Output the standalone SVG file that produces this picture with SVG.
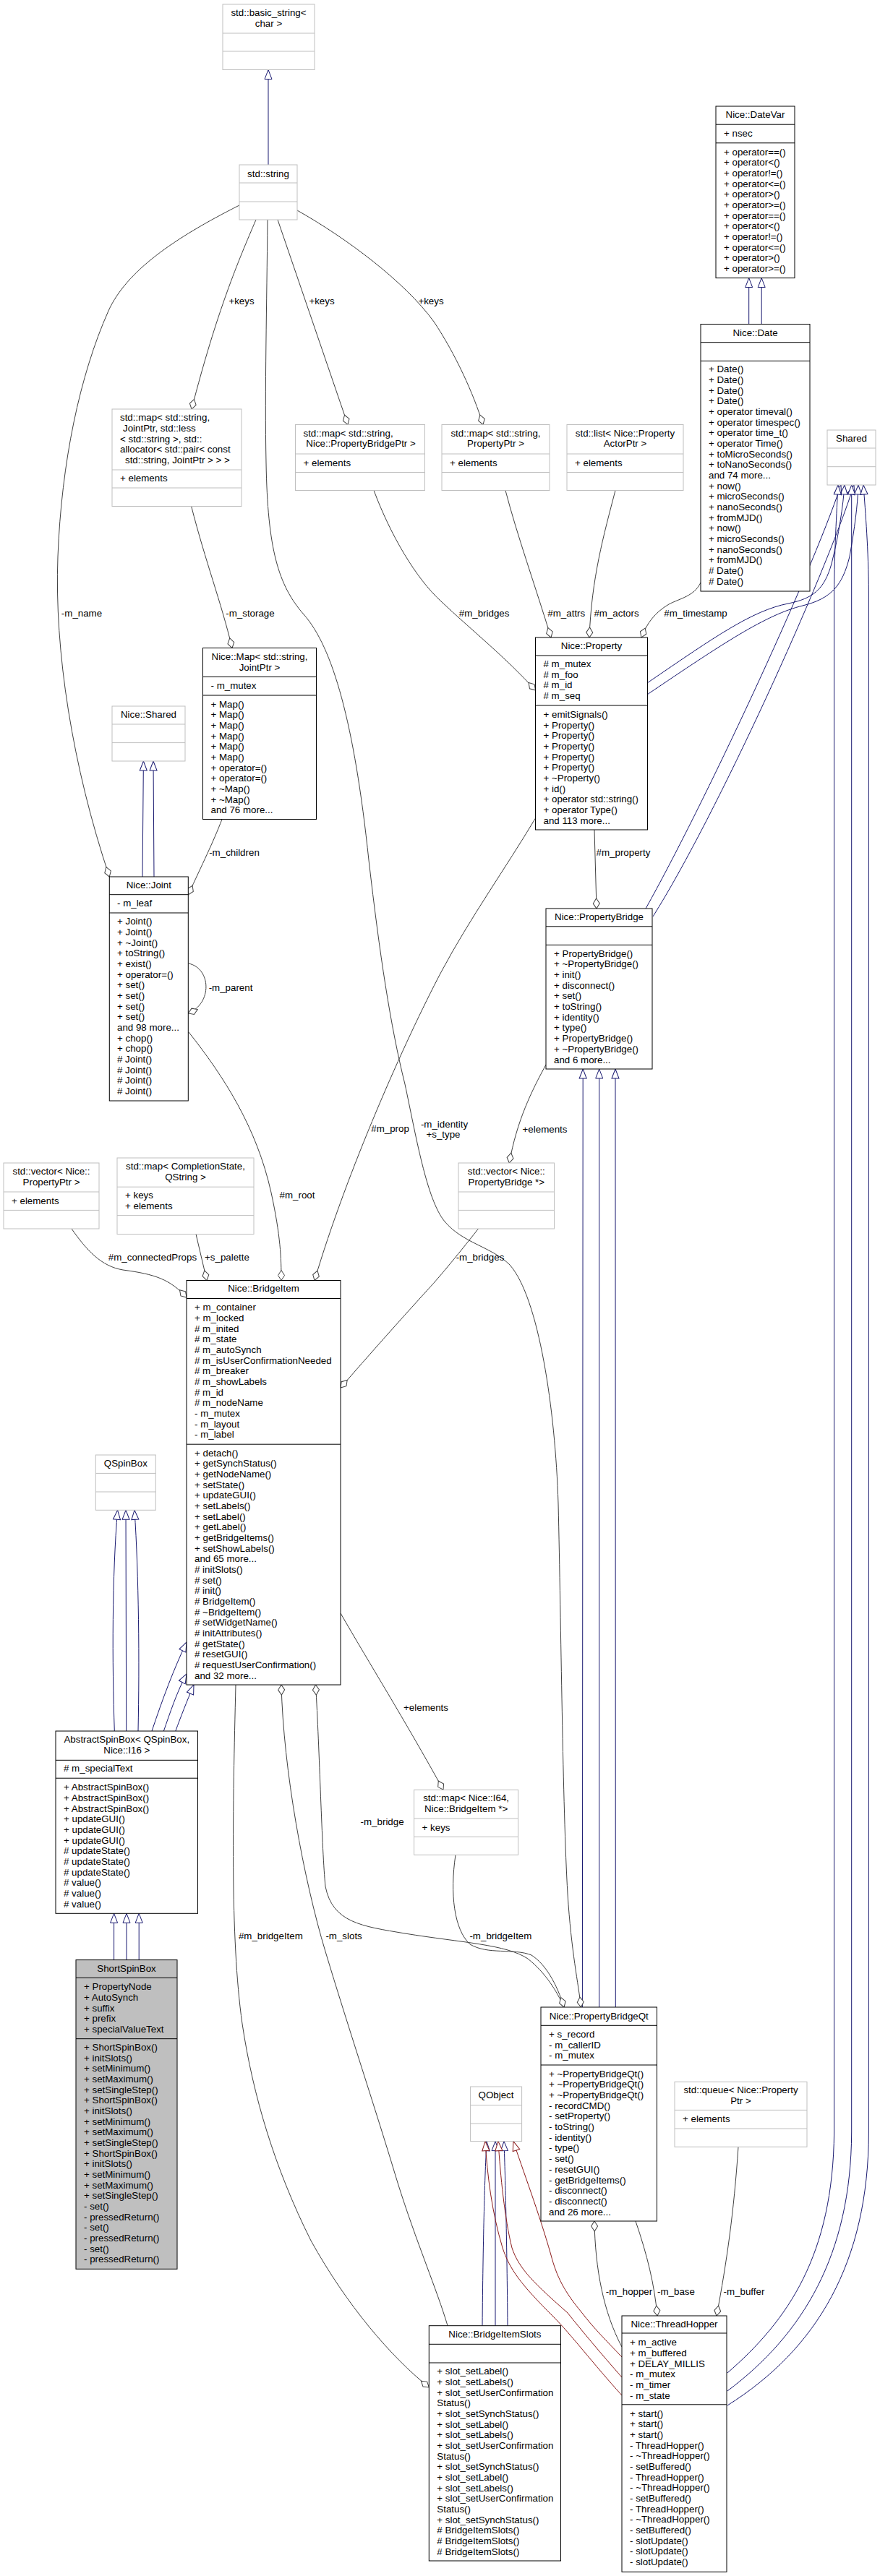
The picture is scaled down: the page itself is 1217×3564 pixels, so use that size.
<svg xmlns="http://www.w3.org/2000/svg" width="1217" height="3564" viewBox="0 0 1217 3564">
<style>
text{font-family:"Liberation Sans",Arial,Helvetica,sans-serif;font-size:13.33px;fill:#000}
.c{text-anchor:middle}
.n{fill:#fff;stroke:#000;stroke-width:1}
.g{fill:#fff;stroke:#bfbfbf;stroke-width:1}
.s{fill:#bfbfbf;stroke:#000;stroke-width:1}
.dn{stroke:#000;stroke-width:1}
.dg{stroke:#bfbfbf;stroke-width:1}
.e{fill:none;stroke:#404040;stroke-width:1}
.b{fill:none;stroke:#191970;stroke-width:1}
.r{fill:none;stroke:#8b1a1a;stroke-width:1}
</style>
<defs>
<marker id="de" markerUnits="userSpaceOnUse" markerWidth="16" markerHeight="12" viewBox="-1 -6 16 12" refX="14" refY="0" orient="auto"><path d="M0,0 L7,-4.5 L14,0 L7,4.5 Z" fill="#fff" stroke="#404040"/></marker>
<marker id="ds" markerUnits="userSpaceOnUse" markerWidth="16" markerHeight="12" viewBox="-1 -6 16 12" refX="0" refY="0" orient="auto"><path d="M0,0 L7,-4.5 L14,0 L7,4.5 Z" fill="#fff" stroke="#404040"/></marker>
<marker id="tb" markerUnits="userSpaceOnUse" markerWidth="15" markerHeight="12" viewBox="-1 -6 15 12" refX="13" refY="0" orient="auto"><path d="M0,-5 L13,0 L0,5 Z" fill="#fff" stroke="#191970"/></marker>
<marker id="tr" markerUnits="userSpaceOnUse" markerWidth="15" markerHeight="12" viewBox="-1 -6 15 12" refX="13" refY="0" orient="auto"><path d="M0,-5 L13,0 L0,5 Z" fill="#fff" stroke="#8b1a1a"/></marker>
</defs>
<rect x="0" y="0" width="1217" height="3564" fill="#fff"/>

<g id="connectors">
<!-- inheritance -->
<path class="b" d="M371,228 L371,96.5" marker-end="url(#tb)"/>
<path class="b" d="M1035.7,448.5 L1035.7,384.6" marker-end="url(#tb)"/>
<path class="b" d="M1053.2,448.5 L1053.2,384.6" marker-end="url(#tb)"/>
<path class="b" d="M197,1213 L198.4,1053" marker-end="url(#tb)"/>
<path class="b" d="M213,1213 L212,1053" marker-end="url(#tb)"/>
<path class="b" d="M895,945 C990,880 1040,845 1090,835 C1125,828 1140,815 1150,780 C1160,740 1166,700 1168,671" marker-end="url(#tb)"/>
<path class="b" d="M895,961 C1000,890 1060,850 1110,838 C1150,828 1165,810 1175,770 C1182,730 1186,700 1187,671" marker-end="url(#tb)"/>
<path class="b" d="M893,1257 C970,1120 1120,800 1163,671" marker-end="url(#tb)"/>
<path class="b" d="M903,1268 C990,1130 1140,800 1181,671" marker-end="url(#tb)"/>
<path class="b" d="M1006,3283 C1090,3210 1152,3120 1153.6,2950 L1153.6,820 C1154,760 1157,710 1159,671" marker-end="url(#tb)"/>
<path class="b" d="M1006,3308 C1110,3230 1177,3120 1177.7,2950 L1177.7,671" marker-end="url(#tb)"/>
<path class="b" d="M1006,3328 C1130,3250 1201,3130 1201.4,2950 L1201.4,820 C1201,760 1197,710 1194,671" marker-end="url(#tb)"/>
<path class="b" d="M805.4,2777 L806.2,1479" marker-end="url(#tb)"/>
<path class="b" d="M828.7,2777 L828.7,1479" marker-end="url(#tb)"/>
<path class="b" d="M851.3,2777 L851,1479" marker-end="url(#tb)"/>
<path class="b" d="M158.3,2395 C155,2300 155,2180 162.6,2089.3" marker-end="url(#tb)"/>
<path class="b" d="M174.7,2395 L174,2089.3" marker-end="url(#tb)"/>
<path class="b" d="M191,2395 C193,2300 192,2180 186,2089.3" marker-end="url(#tb)"/>
<path class="b" d="M210,2395 C225,2350 240,2310 258,2272" marker-end="url(#tb)"/>
<path class="b" d="M226.4,2395 C235,2370 245,2340 258,2316" marker-end="url(#tb)"/>
<path class="b" d="M242.8,2395 C250,2375 258,2355 268,2331" marker-end="url(#tb)"/>
<path class="b" d="M157.6,2711.6 L157.6,2647.3" marker-end="url(#tb)"/>
<path class="b" d="M175,2711.6 L175,2647.3" marker-end="url(#tb)"/>
<path class="b" d="M192.2,2711.6 L192.2,2647.3" marker-end="url(#tb)"/>
<path class="b" d="M667,3217.7 C668,3100 670,3020 673,2962.6" marker-end="url(#tb)"/>
<path class="b" d="M685,3217.7 L685,2962.6" marker-end="url(#tb)"/>
<path class="b" d="M702,3217.7 C701,3100 699,3020 697,2962.6" marker-end="url(#tb)"/>
<path class="r" d="M860,3314 C820,3270 790,3230 765,3205 C720,3160 705,3140 695,3110 C680,3060 674,3010 671,2962.6" marker-end="url(#tr)"/>
<path class="r" d="M860,3289 C830,3255 805,3225 785,3200 C740,3160 718,3140 708,3110 C698,3070 692,3010 689,2962.6" marker-end="url(#tr)"/>
<path class="r" d="M860,3261 C840,3240 820,3220 805,3200 C780,3170 770,3150 762,3120 C745,3060 722,3000 710,2962.6" marker-end="url(#tr)"/>
<!-- usage -->
<path class="e" d="M331,284 C240,330 175,375 150,430 C110,520 85,640 80,770 C75,900 100,1060 151.3,1213" marker-end="url(#de)"/>
<path class="e" d="M354,304 C330,360 300,430 265,566" marker-end="url(#de)"/>
<path class="e" d="M384,304 L481,587.5" marker-end="url(#de)"/>
<path class="e" d="M411,291 C480,330 560,390 600,445 C630,490 655,545 668,587.5" marker-end="url(#de)"/>
<path class="e" d="M370,304 C369,420 366,540 368,640 C370,760 385,810 420,850 C460,895 490,1000 510,1190 C525,1320 540,1420 560,1500 C575,1570 590,1660 615,1690 C640,1720 680,1725 705,1750 C745,1795 768,1950 772,2080 C776,2250 778,2500 785,2620 C790,2700 800,2745 803.5,2777" marker-end="url(#de)"/>
<path class="e" d="M264.5,700 C285,780 305,830 321,896.5" marker-end="url(#de)"/>
<path class="e" d="M699,678.5 C715,740 740,810 762,882" marker-end="url(#de)"/>
<path class="e" d="M851,678.5 C835,740 818,800 815,882" marker-end="url(#de)"/>
<path class="e" d="M969,806 C960,825 940,828 925,836 C905,848 895,862 887,882" marker-end="url(#de)"/>
<path class="e" d="M517,678.5 C540,740 575,800 610,832 C650,870 700,910 740.5,955" marker-end="url(#de)"/>
<path class="e" d="M307,1133.5 C295,1165 280,1195 260.3,1238" marker-end="url(#de)"/>
<path class="e" d="M261,1333 C292,1340 294,1388 260.3,1402" marker-end="url(#de)"/>
<path class="e" d="M261,1428 C310,1490 355,1560 375,1650 C388,1710 389,1740 389,1771.5" marker-end="url(#de)"/>
<path class="e" d="M740.5,1132 C700,1200 650,1270 610,1345 C560,1440 480,1620 435,1771.5" marker-end="url(#de)"/>
<path class="e" d="M822,1148 L825,1257" marker-end="url(#de)"/>
<path class="e" d="M755,1473 C735,1510 715,1550 704.3,1609" marker-end="url(#de)"/>
<path class="e" d="M661.5,1700 C630,1740 605,1770 590,1786 C550,1830 510,1875 471,1920" marker-end="url(#de)"/>
<path class="e" d="M99,1700 C120,1730 140,1752 170,1757 C215,1763 235,1770 258,1795" marker-end="url(#de)"/>
<path class="e" d="M271,1707.5 L286,1771.5" marker-end="url(#de)"/>
<path class="e" d="M471,2232 C510,2300 560,2380 613,2476.3" marker-end="url(#de)"/>
<path class="e" d="M326,2331 C322,2500 318,2680 335,2800 C350,2900 380,3000 430,3100 C480,3190 540,3260 593.3,3303" marker-end="url(#de)"/>
<path class="e" d="M389,2331 C392,2450 420,2600 450,2700 C480,2800 520,2920 550,3020 C575,3100 605,3170 619,3217.7" marker-start="url(#ds)"/>
<path class="e" d="M436.5,2331 C442,2420 445,2560 450,2610 C460,2660 500,2665 560,2675 C640,2688 700,2690 730,2710 C755,2730 770,2755 780,2777" marker-start="url(#ds)"/>
<path class="e" d="M630,2566.3 C622,2620 628,2670 650,2690 C675,2705 710,2695 735,2705 C755,2718 770,2745 780,2777" marker-end="url(#de)"/>
<path class="e" d="M822,3073 C823,3140 835,3200 860,3247" marker-start="url(#ds)"/>
<path class="e" d="M879,3073 C895,3120 905,3160 909,3204" marker-end="url(#de)"/>
<path class="e" d="M1021,2970.3 C1015,3060 1005,3130 991,3204" marker-end="url(#de)"/>
<!-- labels -->
<text class="c" x="334" y="420.5">+keys</text>
<text class="c" x="445" y="420.5">+keys</text>
<text class="c" x="596" y="420.5">+keys</text>
<text class="c" x="113" y="853">-m_name</text>
<text class="c" x="346" y="853">-m_storage</text>
<text class="c" x="669.6" y="853">#m_bridges</text>
<text class="c" x="783.3" y="853">#m_attrs</text>
<text class="c" x="852.5" y="853">#m_actors</text>
<text class="c" x="962" y="853">#m_timestamp</text>
<text class="c" x="324" y="1184">-m_children</text>
<text class="c" x="862" y="1184">#m_property</text>
<text class="c" x="319" y="1371">-m_parent</text>
<text class="c" x="539.6" y="1566.4">#m_prop</text>
<text class="c" x="614.5" y="1559.5">-m_identity</text>
<text class="c" x="613" y="1574">+s_type</text>
<text class="c" x="753.5" y="1566.5">+elements</text>
<text class="c" x="411" y="1658.2">#m_root</text>
<text class="c" x="211" y="1743.5">#m_connectedProps</text>
<text class="c" x="314" y="1743.5">+s_palette</text>
<text class="c" x="664" y="1743.5">-m_bridges</text>
<text class="c" x="589" y="2367.4">+elements</text>
<text class="c" x="528.6" y="2525.1">-m_bridge</text>
<text class="c" x="374.4" y="2682.8">#m_bridgeItem</text>
<text class="c" x="475.6" y="2682.8">-m_slots</text>
<text class="c" x="692.4" y="2682.8">-m_bridgeItem</text>
<text class="c" x="870" y="3175.1">-m_hopper</text>
<text class="c" x="935" y="3175.1">-m_base</text>
<text class="c" x="1029" y="3175.1">-m_buffer</text>
</g>

<g id="basic_string">
<rect class="g" x="308" y="6" width="127" height="90.5"/>
<line class="dg" x1="308" y1="46" x2="435" y2="46"/><line class="dg" x1="308" y1="71" x2="435" y2="71"/>
<text class="c" x="371.5" y="22">std::basic_string&lt;</text>
<text class="c" x="371.5" y="37">char &gt;</text>
</g>

<g id="std_string">
<rect class="g" x="331" y="228" width="80" height="76"/>
<line class="dg" x1="331" y1="253" x2="411" y2="253"/><line class="dg" x1="331" y1="279" x2="411" y2="279"/>
<text class="c" x="371" y="244.5">std::string</text>
</g>

<g id="map_joint">
<rect class="g" x="155" y="566" width="179" height="134.5"/>
<line class="dg" x1="155" y1="650" x2="334" y2="650"/><line class="dg" x1="155" y1="675" x2="334" y2="675"/>
<text x="166" y="582.3">std::map&lt; std::string,</text>
<text x="170" y="597">JointPtr, std::less</text>
<text x="166" y="611.6">&lt; std::string &gt;, std::</text>
<text x="166" y="626.3">allocator&lt; std::pair&lt; const</text>
<text x="173" y="641">std::string, JointPtr &gt; &gt; &gt;</text>
<text x="166" y="666.2">+ elements</text>
</g>

<g id="map_pbptr">
<rect class="g" x="408.5" y="587.5" width="179" height="91"/>
<line class="dg" x1="408.5" y1="628" x2="587.5" y2="628"/><line class="dg" x1="408.5" y1="653.5" x2="587.5" y2="653.5"/>
<text x="419.5" y="603.5">std::map&lt; std::string,</text>
<text x="423.3" y="618.2">Nice::PropertyBridgePtr &gt;</text>
<text x="419.5" y="644.5">+ elements</text>
</g>

<g id="map_pptr">
<rect class="g" x="611" y="587.5" width="149" height="91"/>
<line class="dg" x1="611" y1="628" x2="760" y2="628"/><line class="dg" x1="611" y1="653.5" x2="760" y2="653.5"/>
<text class="c" x="685.5" y="603.5">std::map&lt; std::string,</text>
<text class="c" x="685.5" y="618.2">PropertyPtr &gt;</text>
<text x="622" y="644.5">+ elements</text>
</g>

<g id="list_actor">
<rect class="g" x="784" y="587.5" width="161" height="91"/>
<line class="dg" x1="784" y1="628" x2="945" y2="628"/><line class="dg" x1="784" y1="653.5" x2="945" y2="653.5"/>
<text class="c" x="864.5" y="603.5">std::list&lt; Nice::Property</text>
<text class="c" x="864.5" y="618.2">ActorPtr &gt;</text>
<text x="795" y="644.5">+ elements</text>
</g>

<g id="datevar">
<rect class="n" x="990" y="147" width="109" height="237.6"/>
<line class="dn" x1="990" y1="172.2" x2="1099" y2="172.2"/><line class="dn" x1="990" y1="197.8" x2="1099" y2="197.8"/>
<text class="c" x="1044.5" y="163.3">Nice::DateVar</text>
<text x="1001" y="189.3">+ nsec</text>
<text x="1001" y="214.5"><tspan x="1001">+ operator==()</tspan><tspan x="1001" dy="14.67">+ operator&lt;()</tspan><tspan x="1001" dy="14.67">+ operator!=()</tspan><tspan x="1001" dy="14.67">+ operator&lt;=()</tspan><tspan x="1001" dy="14.67">+ operator&gt;()</tspan><tspan x="1001" dy="14.67">+ operator&gt;=()</tspan><tspan x="1001" dy="14.67">+ operator==()</tspan><tspan x="1001" dy="14.67">+ operator&lt;()</tspan><tspan x="1001" dy="14.67">+ operator!=()</tspan><tspan x="1001" dy="14.67">+ operator&lt;=()</tspan><tspan x="1001" dy="14.67">+ operator&gt;()</tspan><tspan x="1001" dy="14.67">+ operator&gt;=()</tspan></text>
</g>

<g id="date">
<rect class="n" x="969" y="448.5" width="151" height="369.5"/>
<line class="dn" x1="969" y1="473.7" x2="1120" y2="473.7"/><line class="dn" x1="969" y1="499.4" x2="1120" y2="499.4"/>
<text class="c" x="1044.5" y="464.8">Nice::Date</text>
<text x="980" y="515.3"><tspan x="980">+ Date()</tspan><tspan x="980" dy="14.67">+ Date()</tspan><tspan x="980" dy="14.67">+ Date()</tspan><tspan x="980" dy="14.67">+ Date()</tspan><tspan x="980" dy="14.67">+ operator timeval()</tspan><tspan x="980" dy="14.67">+ operator timespec()</tspan><tspan x="980" dy="14.67">+ operator time_t()</tspan><tspan x="980" dy="14.67">+ operator Time()</tspan><tspan x="980" dy="14.67">+ toMicroSeconds()</tspan><tspan x="980" dy="14.67">+ toNanoSeconds()</tspan><tspan x="980" dy="14.67">and 74 more...</tspan><tspan x="980" dy="14.67">+ now()</tspan><tspan x="980" dy="14.67">+ microSeconds()</tspan><tspan x="980" dy="14.67">+ nanoSeconds()</tspan><tspan x="980" dy="14.67">+ fromMJD()</tspan><tspan x="980" dy="14.67">+ now()</tspan><tspan x="980" dy="14.67">+ microSeconds()</tspan><tspan x="980" dy="14.67">+ nanoSeconds()</tspan><tspan x="980" dy="14.67">+ fromMJD()</tspan><tspan x="980" dy="14.67"># Date()</tspan><tspan x="980" dy="14.67"># Date()</tspan></text>
</g>

<g id="shared">
<rect class="g" x="1144" y="595" width="67" height="76"/>
<line class="dg" x1="1144" y1="620" x2="1211" y2="620"/><line class="dg" x1="1144" y1="645.7" x2="1211" y2="645.7"/>
<text class="c" x="1177.5" y="611">Shared</text>
</g>

<g id="property">
<rect class="n" x="740.5" y="882" width="155" height="266"/>
<line class="dn" x1="740.5" y1="907" x2="895.5" y2="907"/><line class="dn" x1="740.5" y1="976" x2="895.5" y2="976"/>
<text class="c" x="818" y="898">Nice::Property</text>
<text x="751.5" y="923"><tspan x="751.5"># m_mutex</tspan><tspan x="751.5" dy="14.67"># m_foo</tspan><tspan x="751.5" dy="14.67"># m_id</tspan><tspan x="751.5" dy="14.67"># m_seq</tspan></text>
<text x="751.5" y="993"><tspan x="751.5">+ emitSignals()</tspan><tspan x="751.5" dy="14.67">+ Property()</tspan><tspan x="751.5" dy="14.67">+ Property()</tspan><tspan x="751.5" dy="14.67">+ Property()</tspan><tspan x="751.5" dy="14.67">+ Property()</tspan><tspan x="751.5" dy="14.67">+ Property()</tspan><tspan x="751.5" dy="14.67">+ ~Property()</tspan><tspan x="751.5" dy="14.67">+ id()</tspan><tspan x="751.5" dy="14.67">+ operator std::string()</tspan><tspan x="751.5" dy="14.67">+ operator Type()</tspan><tspan x="751.5" dy="14.67">and 113 more...</tspan></text>
</g>

<g id="nice_map">
<rect class="n" x="280.5" y="896.5" width="157" height="237"/>
<line class="dn" x1="280.5" y1="936.5" x2="437.5" y2="936.5"/><line class="dn" x1="280.5" y1="962" x2="437.5" y2="962"/>
<text class="c" x="359" y="913">Nice::Map&lt; std::string,</text>
<text class="c" x="359" y="927.7">JointPtr &gt;</text>
<text x="291.5" y="953.2">- m_mutex</text>
<text x="291.5" y="978.5"><tspan x="291.5">+ Map()</tspan><tspan x="291.5" dy="14.67">+ Map()</tspan><tspan x="291.5" dy="14.67">+ Map()</tspan><tspan x="291.5" dy="14.67">+ Map()</tspan><tspan x="291.5" dy="14.67">+ Map()</tspan><tspan x="291.5" dy="14.67">+ Map()</tspan><tspan x="291.5" dy="14.67">+ operator=()</tspan><tspan x="291.5" dy="14.67">+ operator=()</tspan><tspan x="291.5" dy="14.67">+ ~Map()</tspan><tspan x="291.5" dy="14.67">+ ~Map()</tspan><tspan x="291.5" dy="14.67">and 76 more...</tspan></text>
</g>

<g id="nice_shared">
<rect class="g" x="155" y="977" width="101" height="76"/>
<line class="dg" x1="155" y1="1002" x2="256" y2="1002"/><line class="dg" x1="155" y1="1027.6" x2="256" y2="1027.6"/>
<text class="c" x="205.5" y="993">Nice::Shared</text>
</g>

<g id="joint">
<rect class="n" x="151.3" y="1213" width="109" height="310"/>
<line class="dn" x1="151.3" y1="1237.7" x2="260.3" y2="1237.7"/><line class="dn" x1="151.3" y1="1263" x2="260.3" y2="1263"/>
<text class="c" x="205.8" y="1229.2">Nice::Joint</text>
<text x="162" y="1254">- m_leaf</text>
<text x="162" y="1279.4"><tspan x="162">+ Joint()</tspan><tspan x="162" dy="14.67">+ Joint()</tspan><tspan x="162" dy="14.67">+ ~Joint()</tspan><tspan x="162" dy="14.67">+ toString()</tspan><tspan x="162" dy="14.67">+ exist()</tspan><tspan x="162" dy="14.67">+ operator=()</tspan><tspan x="162" dy="14.67">+ set()</tspan><tspan x="162" dy="14.67">+ set()</tspan><tspan x="162" dy="14.67">+ set()</tspan><tspan x="162" dy="14.67">+ set()</tspan><tspan x="162" dy="14.67">and 98 more...</tspan><tspan x="162" dy="14.67">+ chop()</tspan><tspan x="162" dy="14.67">+ chop()</tspan><tspan x="162" dy="14.67"># Joint()</tspan><tspan x="162" dy="14.67"># Joint()</tspan><tspan x="162" dy="14.67"># Joint()</tspan><tspan x="162" dy="14.67"># Joint()</tspan></text>
</g>

<g id="property_bridge">
<rect class="n" x="755" y="1257" width="147" height="222"/>
<line class="dn" x1="755" y1="1281.8" x2="902" y2="1281.8"/><line class="dn" x1="755" y1="1307.4" x2="902" y2="1307.4"/>
<text class="c" x="828.5" y="1273.2">Nice::PropertyBridge</text>
<text x="766" y="1323.8"><tspan x="766">+ PropertyBridge()</tspan><tspan x="766" dy="14.67">+ ~PropertyBridge()</tspan><tspan x="766" dy="14.67">+ init()</tspan><tspan x="766" dy="14.67">+ disconnect()</tspan><tspan x="766" dy="14.67">+ set()</tspan><tspan x="766" dy="14.67">+ toString()</tspan><tspan x="766" dy="14.67">+ identity()</tspan><tspan x="766" dy="14.67">+ type()</tspan><tspan x="766" dy="14.67">+ PropertyBridge()</tspan><tspan x="766" dy="14.67">+ ~PropertyBridge()</tspan><tspan x="766" dy="14.67">and 6 more...</tspan></text>
</g>

<g id="vector_pptr">
<rect class="g" x="5" y="1609" width="132" height="91"/>
<line class="dg" x1="5" y1="1649" x2="137" y2="1649"/><line class="dg" x1="5" y1="1674.4" x2="137" y2="1674.4"/>
<text class="c" x="71" y="1625.3">std::vector&lt; Nice::</text>
<text class="c" x="71" y="1640">PropertyPtr &gt;</text>
<text x="16" y="1665.5">+ elements</text>
</g>

<g id="map_completion">
<rect class="g" x="162" y="1602" width="189" height="105.5"/>
<line class="dg" x1="162" y1="1642.2" x2="351" y2="1642.2"/><line class="dg" x1="162" y1="1681.6" x2="351" y2="1681.6"/>
<text class="c" x="256.5" y="1618">std::map&lt; CompletionState,</text>
<text class="c" x="256.5" y="1632.7">QString &gt;</text>
<text x="173" y="1658.2"><tspan x="173">+ keys</tspan><tspan x="173" dy="14.67">+ elements</tspan></text>
</g>

<g id="vector_pb">
<rect class="g" x="634" y="1609" width="132.5" height="91"/>
<line class="dg" x1="634" y1="1649" x2="766.5" y2="1649"/><line class="dg" x1="634" y1="1674.4" x2="766.5" y2="1674.4"/>
<text class="c" x="700.3" y="1625.3">std::vector&lt; Nice::</text>
<text class="c" x="700.3" y="1640">PropertyBridge *&gt;</text>
</g>

<g id="bridge_item">
<rect class="n" x="258" y="1771.5" width="213" height="559.5"/>
<line class="dn" x1="258" y1="1796.5" x2="471" y2="1796.5"/><line class="dn" x1="258" y1="1998.2" x2="471" y2="1998.2"/>
<text class="c" x="364.5" y="1787">Nice::BridgeItem</text>
<text x="269" y="1813.3"><tspan x="269">+ m_container</tspan><tspan x="269" dy="14.67">+ m_locked</tspan><tspan x="269" dy="14.67"># m_inited</tspan><tspan x="269" dy="14.67"># m_state</tspan><tspan x="269" dy="14.67"># m_autoSynch</tspan><tspan x="269" dy="14.67"># m_isUserConfirmationNeeded</tspan><tspan x="269" dy="14.67"># m_breaker</tspan><tspan x="269" dy="14.67"># m_showLabels</tspan><tspan x="269" dy="14.67"># m_id</tspan><tspan x="269" dy="14.67"># m_nodeName</tspan><tspan x="269" dy="14.67">- m_mutex</tspan><tspan x="269" dy="14.67">- m_layout</tspan><tspan x="269" dy="14.67">- m_label</tspan></text>
<text x="269" y="2014.5"><tspan x="269">+ detach()</tspan><tspan x="269" dy="14.67">+ getSynchStatus()</tspan><tspan x="269" dy="14.67">+ getNodeName()</tspan><tspan x="269" dy="14.67">+ setState()</tspan><tspan x="269" dy="14.67">+ updateGUI()</tspan><tspan x="269" dy="14.67">+ setLabels()</tspan><tspan x="269" dy="14.67">+ setLabel()</tspan><tspan x="269" dy="14.67">+ getLabel()</tspan><tspan x="269" dy="14.67">+ getBridgeItems()</tspan><tspan x="269" dy="14.67">+ setShowLabels()</tspan><tspan x="269" dy="14.67">and 65 more...</tspan><tspan x="269" dy="14.67"># initSlots()</tspan><tspan x="269" dy="14.67"># set()</tspan><tspan x="269" dy="14.67"># init()</tspan><tspan x="269" dy="14.67"># BridgeItem()</tspan><tspan x="269" dy="14.67"># ~BridgeItem()</tspan><tspan x="269" dy="14.67"># setWidgetName()</tspan><tspan x="269" dy="14.67"># initAttributes()</tspan><tspan x="269" dy="14.67"># getState()</tspan><tspan x="269" dy="14.67"># resetGUI()</tspan><tspan x="269" dy="14.67"># requestUserConfirmation()</tspan><tspan x="269" dy="14.67">and 32 more...</tspan></text>
</g>

<g id="qspinbox">
<rect class="g" x="132.3" y="2013" width="83" height="76.3"/>
<line class="dg" x1="132.3" y1="2038.4" x2="215.3" y2="2038.4"/><line class="dg" x1="132.3" y1="2064" x2="215.3" y2="2064"/>
<text class="c" x="173.8" y="2029">QSpinBox</text>
</g>

<g id="abstract_spinbox">
<rect class="n" x="77" y="2395" width="196.5" height="252.3"/>
<line class="dn" x1="77" y1="2435.3" x2="273.5" y2="2435.3"/><line class="dn" x1="77" y1="2460.2" x2="273.5" y2="2460.2"/>
<text class="c" x="175.3" y="2411">AbstractSpinBox&lt; QSpinBox,</text>
<text class="c" x="175.3" y="2425.8">Nice::I16 &gt;</text>
<text x="88" y="2451.3"># m_specialText</text>
<text x="88" y="2477.3"><tspan x="88">+ AbstractSpinBox()</tspan><tspan x="88" dy="14.67">+ AbstractSpinBox()</tspan><tspan x="88" dy="14.67">+ AbstractSpinBox()</tspan><tspan x="88" dy="14.67">+ updateGUI()</tspan><tspan x="88" dy="14.67">+ updateGUI()</tspan><tspan x="88" dy="14.67">+ updateGUI()</tspan><tspan x="88" dy="14.67"># updateState()</tspan><tspan x="88" dy="14.67"># updateState()</tspan><tspan x="88" dy="14.67"># updateState()</tspan><tspan x="88" dy="14.67"># value()</tspan><tspan x="88" dy="14.67"># value()</tspan><tspan x="88" dy="14.67"># value()</tspan></text>
</g>

<g id="map_i64">
<rect class="g" x="572.6" y="2476.3" width="144" height="90"/>
<line class="dg" x1="572.6" y1="2516" x2="716.6" y2="2516"/><line class="dg" x1="572.6" y1="2541.3" x2="716.6" y2="2541.3"/>
<text class="c" x="644.6" y="2492.2">std::map&lt; Nice::I64,</text>
<text class="c" x="644.6" y="2506.8">Nice::BridgeItem *&gt;</text>
<text x="583.6" y="2532.5">+ keys</text>
</g>

<g id="short_spinbox">
<rect class="s" x="105" y="2711.6" width="140" height="427.7"/>
<line class="dn" x1="105" y1="2736.5" x2="245" y2="2736.5"/><line class="dn" x1="105" y1="2820.7" x2="245" y2="2820.7"/>
<text class="c" x="175" y="2727.5">ShortSpinBox</text>
<text x="116" y="2753.2"><tspan x="116">+ PropertyNode</tspan><tspan x="116" dy="14.67">+ AutoSynch</tspan><tspan x="116" dy="14.67">+ suffix</tspan><tspan x="116" dy="14.67">+ prefix</tspan><tspan x="116" dy="14.67">+ specialValueText</tspan></text>
<text x="116" y="2837"><tspan x="116">+ ShortSpinBox()</tspan><tspan x="116" dy="14.67">+ initSlots()</tspan><tspan x="116" dy="14.67">+ setMinimum()</tspan><tspan x="116" dy="14.67">+ setMaximum()</tspan><tspan x="116" dy="14.67">+ setSingleStep()</tspan><tspan x="116" dy="14.67">+ ShortSpinBox()</tspan><tspan x="116" dy="14.67">+ initSlots()</tspan><tspan x="116" dy="14.67">+ setMinimum()</tspan><tspan x="116" dy="14.67">+ setMaximum()</tspan><tspan x="116" dy="14.67">+ setSingleStep()</tspan><tspan x="116" dy="14.67">+ ShortSpinBox()</tspan><tspan x="116" dy="14.67">+ initSlots()</tspan><tspan x="116" dy="14.67">+ setMinimum()</tspan><tspan x="116" dy="14.67">+ setMaximum()</tspan><tspan x="116" dy="14.67">+ setSingleStep()</tspan><tspan x="116" dy="14.67">- set()</tspan><tspan x="116" dy="14.67">- pressedReturn()</tspan><tspan x="116" dy="14.67">- set()</tspan><tspan x="116" dy="14.67">- pressedReturn()</tspan><tspan x="116" dy="14.67">- set()</tspan><tspan x="116" dy="14.67">- pressedReturn()</tspan></text>
</g>

<g id="property_bridge_qt">
<rect class="n" x="748" y="2777" width="160.5" height="296"/>
<line class="dn" x1="748" y1="2802.3" x2="908.5" y2="2802.3"/><line class="dn" x1="748" y1="2857" x2="908.5" y2="2857"/>
<text class="c" x="828.3" y="2793.8">Nice::PropertyBridgeQt</text>
<text x="759" y="2819"><tspan x="759">+ s_record</tspan><tspan x="759" dy="14.67">- m_callerID</tspan><tspan x="759" dy="14.67">- m_mutex</tspan></text>
<text x="759" y="2873.8"><tspan x="759">+ ~PropertyBridgeQt()</tspan><tspan x="759" dy="14.67">+ ~PropertyBridgeQt()</tspan><tspan x="759" dy="14.67">+ ~PropertyBridgeQt()</tspan><tspan x="759" dy="14.67">- recordCMD()</tspan><tspan x="759" dy="14.67">- setProperty()</tspan><tspan x="759" dy="14.67">- toString()</tspan><tspan x="759" dy="14.67">- identity()</tspan><tspan x="759" dy="14.67">- type()</tspan><tspan x="759" dy="14.67">- set()</tspan><tspan x="759" dy="14.67">- resetGUI()</tspan><tspan x="759" dy="14.67">- getBridgeItems()</tspan><tspan x="759" dy="14.67">- disconnect()</tspan><tspan x="759" dy="14.67">- disconnect()</tspan><tspan x="759" dy="14.67">and 26 more...</tspan></text>
</g>

<g id="qobject">
<rect class="g" x="650.6" y="2887" width="71" height="75.6"/>
<line class="dg" x1="650.6" y1="2912.5" x2="721.6" y2="2912.5"/><line class="dg" x1="650.6" y1="2938" x2="721.6" y2="2938"/>
<text class="c" x="686" y="2903.2">QObject</text>
</g>

<g id="queue">
<rect class="g" x="933" y="2880.3" width="183" height="90"/>
<line class="dg" x1="933" y1="2919.4" x2="1116" y2="2919.4"/><line class="dg" x1="933" y1="2945" x2="1116" y2="2945"/>
<text class="c" x="1024.5" y="2896.3">std::queue&lt; Nice::Property</text>
<text class="c" x="1024.5" y="2911">Ptr &gt;</text>
<text x="944" y="2936.1">+ elements</text>
</g>

<g id="bridge_item_slots">
<rect class="n" x="593.3" y="3217.7" width="182.2" height="325.3"/>
<line class="dn" x1="593.3" y1="3243.3" x2="775.5" y2="3243.3"/><line class="dn" x1="593.3" y1="3269" x2="775.5" y2="3269"/>
<text class="c" x="684.4" y="3233.7">Nice::BridgeItemSlots</text>
<text x="604.3" y="3285.3"><tspan x="604.3">+ slot_setLabel()</tspan><tspan x="604.3" dy="14.67">+ slot_setLabels()</tspan><tspan x="604.3" dy="14.67">+ slot_setUserConfirmation</tspan><tspan x="604.3" dy="14.67">Status()</tspan><tspan x="604.3" dy="14.67">+ slot_setSynchStatus()</tspan><tspan x="604.3" dy="14.67">+ slot_setLabel()</tspan><tspan x="604.3" dy="14.67">+ slot_setLabels()</tspan><tspan x="604.3" dy="14.67">+ slot_setUserConfirmation</tspan><tspan x="604.3" dy="14.67">Status()</tspan><tspan x="604.3" dy="14.67">+ slot_setSynchStatus()</tspan><tspan x="604.3" dy="14.67">+ slot_setLabel()</tspan><tspan x="604.3" dy="14.67">+ slot_setLabels()</tspan><tspan x="604.3" dy="14.67">+ slot_setUserConfirmation</tspan><tspan x="604.3" dy="14.67">Status()</tspan><tspan x="604.3" dy="14.67">+ slot_setSynchStatus()</tspan><tspan x="604.3" dy="14.67"># BridgeItemSlots()</tspan><tspan x="604.3" dy="14.67"># BridgeItemSlots()</tspan><tspan x="604.3" dy="14.67"># BridgeItemSlots()</tspan></text>
</g>

<g id="thread_hopper">
<rect class="n" x="860" y="3204" width="145" height="354.3"/>
<line class="dn" x1="860" y1="3228" x2="1005" y2="3228"/><line class="dn" x1="860" y1="3326.8" x2="1005" y2="3326.8"/>
<text class="c" x="932.5" y="3219.5">Nice::ThreadHopper</text>
<text x="871" y="3245.2"><tspan x="871">+ m_active</tspan><tspan x="871" dy="14.67">+ m_buffered</tspan><tspan x="871" dy="14.67">+ DELAY_MILLIS</tspan><tspan x="871" dy="14.67">- m_mutex</tspan><tspan x="871" dy="14.67">- m_timer</tspan><tspan x="871" dy="14.67">- m_state</tspan></text>
<text x="871" y="3343.5"><tspan x="871">+ start()</tspan><tspan x="871" dy="14.67">+ start()</tspan><tspan x="871" dy="14.67">+ start()</tspan><tspan x="871" dy="14.67">- ThreadHopper()</tspan><tspan x="871" dy="14.67">- ~ThreadHopper()</tspan><tspan x="871" dy="14.67">- setBuffered()</tspan><tspan x="871" dy="14.67">- ThreadHopper()</tspan><tspan x="871" dy="14.67">- ~ThreadHopper()</tspan><tspan x="871" dy="14.67">- setBuffered()</tspan><tspan x="871" dy="14.67">- ThreadHopper()</tspan><tspan x="871" dy="14.67">- ~ThreadHopper()</tspan><tspan x="871" dy="14.67">- setBuffered()</tspan><tspan x="871" dy="14.67">- slotUpdate()</tspan><tspan x="871" dy="14.67">- slotUpdate()</tspan><tspan x="871" dy="14.67">- slotUpdate()</tspan></text>
</g>
</svg>
